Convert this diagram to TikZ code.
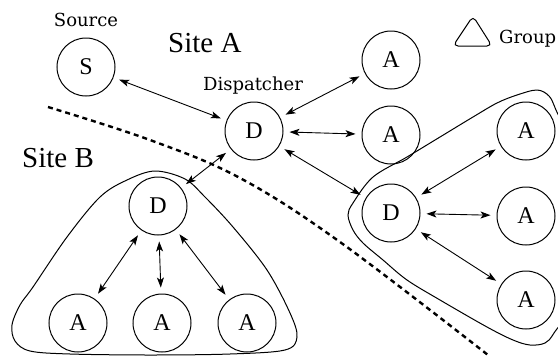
\documentclass[tikz,border=0pt]{standalone}
\usepackage{fontspec}
\setmainfont{Liberation Serif}
\newfontfamily\labelfont{DejaVu Serif}
\usetikzlibrary{arrows.meta}

\begin{document}
\begin{tikzpicture}[x=1pt,y=-1pt,
  agent/.style={circle,draw,line width=1pt,minimum size=58pt,inner sep=0pt,
    font=\fontsize{24}{24}\selectfont},
  tip/.tip={Stealth[length=10pt,width=7pt,inset=2.5pt]},
  link/.style={tip-tip,line width=0.9pt,shorten <=6pt,shorten >=6pt},
  tag/.style={font=\labelfont\fontsize{18}{20}\selectfont,inner sep=0pt},
  site/.style={font=\fontsize{29}{30}\selectfont,inner sep=0pt,anchor=base west},
  hull/.style={line width=1pt},
  border/.style={line width=2.4pt,dash pattern=on 5pt off 4pt}
]
\useasboundingbox (0,0) rectangle (558,360);
\begin{scope}
\clip (0,0) rectangle (558,360);

% site labels
\node[site] (siteA) at (168,52) {Site A};
\node[site] (siteB) at (22,167) {Site B};

% agents
\node[agent] (S)  at (86,67)   {S};
\node[agent] (D1) at (254,131) {D};
\node[agent] (A1) at (391,60)  {A};
\node[agent] (A2) at (391,135) {A};
\node[agent] (D2) at (391,213) {D};
\node[agent] (A3) at (526,131) {A};
\node[agent] (A4) at (526,216) {A};
\node[agent] (A5) at (526,300) {A};
\node[agent] (D3) at (158,206) {D};
\node[agent] (A6) at (78,323)  {A};
\node[agent] (A7) at (162,323) {A};
\node[agent] (A8) at (247,323) {A};

% text labels
\node[tag,anchor=base] (src) at (86,26) {Source};
\node[tag,anchor=base] (dsp) at (253,90) {Dispatcher};
\node[tag,anchor=base west] (grp) at (499,43) {Group};

% legend symbol for a group
\draw[hull,rounded corners=5pt] (473,16) -- (453,46) -- (492,46) -- cycle;

% site boundary
\draw[border] plot[smooth,tension=0.6] coordinates {(48,107) (150,140) (240,178) (340,242) (488,355)};

% group outlines
\draw[hull] plot[smooth cycle,tension=0.55] coordinates {
  (155,171) (185,179) (205,197) (233,227) (267,270) (290,313) (297,337) (285,350)
  (230,354) (150,355) (70,354) (30,351) (15,341) (12,325) (20,305)
  (33,287) (67,237) (100,197) (127,180)};
\draw[hull] plot[smooth cycle,tension=0.55] coordinates {
  (348,215) (353,203) (373,177) (407,157) (440,137) (473,117) (497,103)
  (517,95) (537,90) (549,96) (556,110) (572,150) (576,220) (572,300)
  (554,333) (545,343) (530,345) (513,340) (487,327) (440,300) (407,280)
  (383,260) (363,243) (353,230)};

% links
\draw[link] (S) -- (D1);
\draw[link] (D1) -- (A1);
\draw[link] (D1) -- (A2);
\draw[link] (D1) -- (D2);
\draw[link] (D1) -- (D3);
\draw[link] (D2) -- (A3);
\draw[link] (D2) -- (A4);
\draw[link] (D2) -- (A5);
\draw[link] (D3) -- (A6);
\draw[link] (D3) -- (A7);
\draw[link] (D3) -- (A8);
\end{scope}
\end{tikzpicture}
\end{document}
